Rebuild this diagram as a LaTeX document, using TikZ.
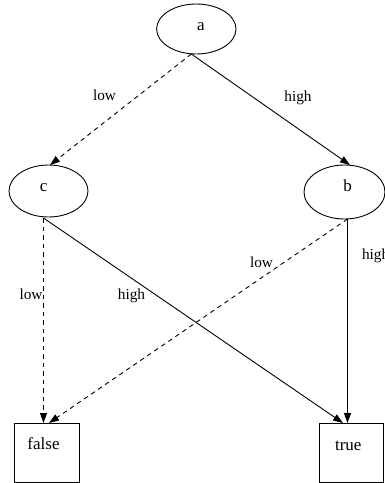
\documentclass[tikz,border=0pt]{standalone}
\usepackage{fontspec}
\setmainfont{Liberation Serif}
\usetikzlibrary{arrows.meta,shapes.geometric}
\begin{document}
\begin{tikzpicture}[x=1pt,y=-1pt,
  every node/.style={inner sep=0pt,outer sep=0pt},
  st/.style={draw,ellipse,line width=0.9pt},
  term/.style={draw,rectangle,line width=0.9pt,minimum height=59pt},
  lbl/.style={font=\fontsize{17}{20}\selectfont,anchor=base},
  elbl/.style={font=\fontsize{15.3}{18}\selectfont,anchor=base},
  edge/.style={line width=0.9pt,-{Triangle[length=10pt,width=7pt]}},
  dedge/.style={edge,dash pattern=on 4.5pt off 4pt}]
\useasboundingbox (0,0) rectangle (385,483);
% state nodes
\node[st,minimum width=79.4pt,minimum height=50pt] (a) at (196.3,29) {};
\node[st,minimum width=79pt,minimum height=52pt] (c) at (48.5,191) {};
\node[st,minimum width=81pt,minimum height=54pt] (b) at (344.5,192) {};
\node[term,minimum width=65pt] (false) at (46.5,452.5) {};
\node[term,minimum width=64pt] (true) at (351,452.5) {};
% node texts
\node[lbl] (at) at (201,30.7) {a};
\node[lbl] (ct) at (43.7,191.7) {c};
\node[lbl] (bt) at (347.5,191.7) {b};
\node[lbl] (ft) at (43.5,449.3) {false};
\node[lbl] (tt) at (348.3,450) {true};
% edges
\draw[dedge] ([xshift=-5pt]a.south) -- ([xshift=1.5pt]c.north);
\draw[edge] ([xshift=-5pt]a.south) -- ([xshift=5.5pt]b.north);
\draw[dedge] ([xshift=-5pt,yshift=-1pt]c.south) -- ([xshift=-3pt]false.north);
\draw[edge] ([xshift=-5pt,yshift=-1pt]c.south) -- ([xshift=-8pt]true.north);
\draw[dedge] ([xshift=3pt]b.south) -- ([xshift=2.5pt]false.north);
\draw[edge] ([xshift=3pt]b.south) -- ([xshift=-3.5pt]true.north);
% edge labels
\node[elbl] (l1) at (104.5,100.7) {low};
\node[elbl] (l2) at (298,101) {high};
\node[elbl] (l3) at (31,299) {low};
\node[elbl] (l4) at (131.5,299) {high};
\node[elbl] (l5) at (261.5,267) {low};
\node[elbl,anchor=base west] (l6) at (362,259) {high};
\end{tikzpicture}
\end{document}
